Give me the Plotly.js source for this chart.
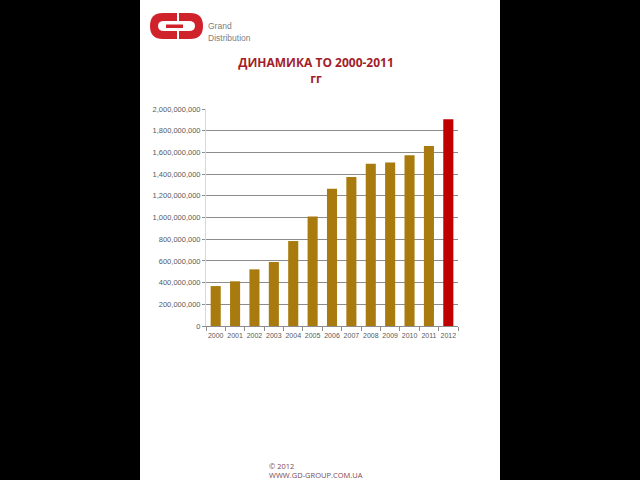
<!DOCTYPE html>
<html>
<head>
<meta charset="utf-8">
<script src="https://cdn.plot.ly/plotly-3.0.1.min.js"></script>
<style>
html,body{margin:0;padding:0;background:#000;width:640px;height:480px;overflow:hidden;}
#chart{position:absolute;left:140px;top:0;width:360px;height:480px;background:#fff;}
</style>
</head>
<body>
<div id="chart"></div>
<script>
// Data
const years = ['2000','2001','2002','2003','2004','2005','2006','2007','2008','2009','2010','2011','2012'];
const revenue = [368e6, 412e6, 522e6, 590e6, 783e6, 1010e6, 1265e6, 1373e6, 1496e6, 1508e6, 1573e6, 1659e6, 1905e6];
const barColors = ['#a97b0e','#a97b0e','#a97b0e','#a97b0e','#a97b0e','#a97b0e','#a97b0e','#a97b0e','#a97b0e','#a97b0e','#a97b0e','#a97b0e','#c00000'];
const titleText = 'ДИНАМИКА ТО 2000-2011<br>гг';

// page pixel -> paper coordinate helpers (plot area: x 206..458, y 109..326 in page pixels)
const PL = 206, PR = 458, PT = 109, PB = 326;
function px(x){ return (x - PL) / (PR - PL); }
function py(y){ return (PB - y) / (PB - PT); }
function path(cmds){
  return cmds.map(c => {
    if (c[0] === 'Z') return 'Z';
    const pts = [];
    for (let i = 1; i < c.length; i += 2) pts.push(px(c[i]).toFixed(5) + ',' + py(c[i+1]).toFixed(5));
    return c[0] + pts.join(' ');
  }).join(' ');
}
function logoShape(cmds, color){
  return {type:'path', xref:'paper', yref:'paper', path:path(cmds), fillcolor:color, line:{width:0}};
}

const shapes = [
  logoShape([['M',177,13],['L',163,13],['Q',150,13,150,26],['Q',150,39,163,39],['L',177,39],['Z']], '#d0222a'),
  logoShape([['M',177,21],['L',164,21],['Q',158,21,158,26],['Q',158,31,164,31],['L',177,31],['Z']], '#ffffff'),
  logoShape([['M',179,13],['L',190,13],['Q',203,13,203,26],['Q',203,39,190,39],['L',179,39],['Z']], '#d0222a'),
  logoShape([['M',179,21],['L',189,21],['Q',195,21,195,26],['Q',195,31,189,31],['L',179,31],['Z']], '#ffffff'),
  logoShape([['M',166,24.5],['L',183,24.5],['L',183,28],['L',166,28],['Z']], '#d0222a')
];

const annotations = [
  {xref:'paper', yref:'paper', x:px(206), y:py(26.5), xanchor:'left', yanchor:'middle', showarrow:false,
   text:'Grand', font:{family:'Liberation Sans, Arial, sans-serif', size:8.5, color:'#808080'}},
  {xref:'paper', yref:'paper', x:px(206), y:py(37.5), xanchor:'left', yanchor:'middle', showarrow:false,
   text:'Distribution', font:{family:'Liberation Sans, Arial, sans-serif', size:8.5, color:'#808080'}},
  {xref:'paper', yref:'paper', x:px(267), y:py(466), xanchor:'left', yanchor:'middle', showarrow:false,
   text:'© 2012', font:{family:'Open Sans, sans-serif', size:7.5, color:'#7a4a55'}},
  {xref:'paper', yref:'paper', x:px(267), y:py(475), xanchor:'left', yanchor:'middle', showarrow:false,
   text:'WWW.GD-GROUP.COM.UA', font:{family:'Open Sans, sans-serif', size:7.5, color:'#7a4a55'}}
];

const data = [{
  type:'bar',
  x: years,
  y: revenue,
  marker:{color: barColors, line:{width:0}},
  hoverinfo:'x+y'
}];

const layout = {
  width:360, height:480,
  margin:{l:66, r:42, t:109, b:154, pad:0},
  paper_bgcolor:'rgba(0,0,0,0)',
  plot_bgcolor:'#ffffff',
  showlegend:false,
  bargap:0.48,
  title:{
    text:titleText,
    xref:'container', x:0.489, xanchor:'center',
    yref:'container', y:1-67/480, yanchor:'top',
    font:{family:'Open Sans, Liberation Sans, sans-serif', size:12, color:'#a31d2a', weight:'bold'}
  },
  xaxis:{
    type:'category',
    showgrid:false,
    showline:true, linecolor:'#8c8c8c', linewidth:1,
    ticks:'outside', tickson:'boundaries', ticklen:4, tickcolor:'#8c8c8c',
    tickangle:0,
    ticklabelstandoff:3,
    tickfont:{family:'Liberation Sans, Arial, sans-serif', size:7, color:'#595959'},
    zeroline:false
  },
  yaxis:{
    range:[0, 2e9],
    dtick:2e8,
    tickformat:',',
    showgrid:true, gridcolor:'#8c8c8c', gridwidth:1,
    showline:true, linecolor:'#d9d9d9', linewidth:1,
    ticks:'outside', ticklen:3, tickcolor:'#8c8c8c',
    tickfont:{family:'Liberation Sans, Arial, sans-serif', size:7.5, color:'#595959'},
    zeroline:false,
    fixedrange:true
  },
  shapes: shapes,
  annotations: annotations
};

Plotly.newPlot('chart', data, layout, {displayModeBar:false, staticPlot:true});
</script>
</body>
</html>
